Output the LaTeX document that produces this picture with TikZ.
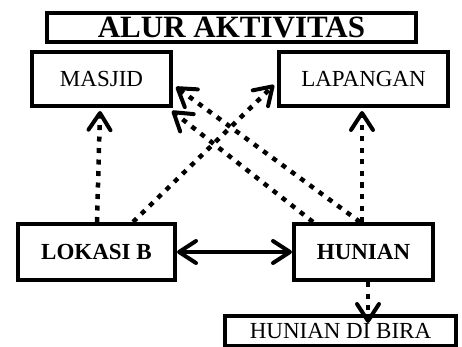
\documentclass[tikz,border=0pt]{standalone}
\usepackage{fontspec}
\setmainfont{Liberation Serif}
\usetikzlibrary{arrows.meta}
\begin{document}
\begin{tikzpicture}[x=1pt,y=-1pt,
  box/.style={draw,line width=4pt,inner sep=0pt,fill=white,font=\fontsize{23}{26}\selectfont},
  barb/.tip={Straight Barb[length=17pt,width=22pt,line width=4pt,round]},
  tip/.style={-barb},
  dots/.style={tip,line width=4.5pt,dash pattern=on 5pt off 6.5pt},
  solidarr/.style={barb-barb,line width=3.5pt}]
\useasboundingbox (0,0) rectangle (462,347);
\fill[white] (0,0) rectangle (462,347);
\node[box,minimum width=369pt,minimum height=29pt,font=\fontsize{31}{33}\selectfont\bfseries] (title) at (231.5,27.5) {ALUR AKTIVITAS};
\node[box,minimum width=139pt,minimum height=54pt] (mas) at (101.5,79) {MASJID};
\node[box,minimum width=169pt,minimum height=54pt] (lap) at (363.5,79) {LAPANGAN};
\node[box,minimum width=157pt,minimum height=56pt,font=\fontsize{23}{26}\selectfont\bfseries] (lok) at (96.5,252) {LOKASI B};
\node[box,minimum width=139pt,minimum height=56pt,font=\fontsize{23}{26}\selectfont\bfseries] (hun) at (363.5,252) {HUNIAN};
\node[box,minimum width=231pt,minimum height=30pt] (bira) at (340.5,331) {HUNIAN DI BIRA};
\coordinate (hs) at ([xshift=76pt]hun.south west);
\draw[dots] ([xshift=81pt]lok.north west) -- ([xshift=70pt,yshift=-3pt]mas.south west);
\draw[dots] ([xshift=117pt]lok.north west) -- ([xshift=-3pt,yshift=-35pt]lap.north west);
\draw[dots] ([xshift=21pt]hun.north west) -- ([xshift=-1pt,yshift=-3pt]mas.south east);
\draw[dots] ([xshift=68pt]hun.north west) -- ([xshift=3pt,yshift=-37pt]mas.north east);
\draw[dots] ([xshift=70pt]hun.north west) -- ([xshift=85pt,yshift=-3pt]lap.south west);
\draw[solidarr] (lok.east) -- (hun.west);
\draw[dots,shorten >=-9pt] (hs) -- (hs |- bira.north);
\end{tikzpicture}
\end{document}
